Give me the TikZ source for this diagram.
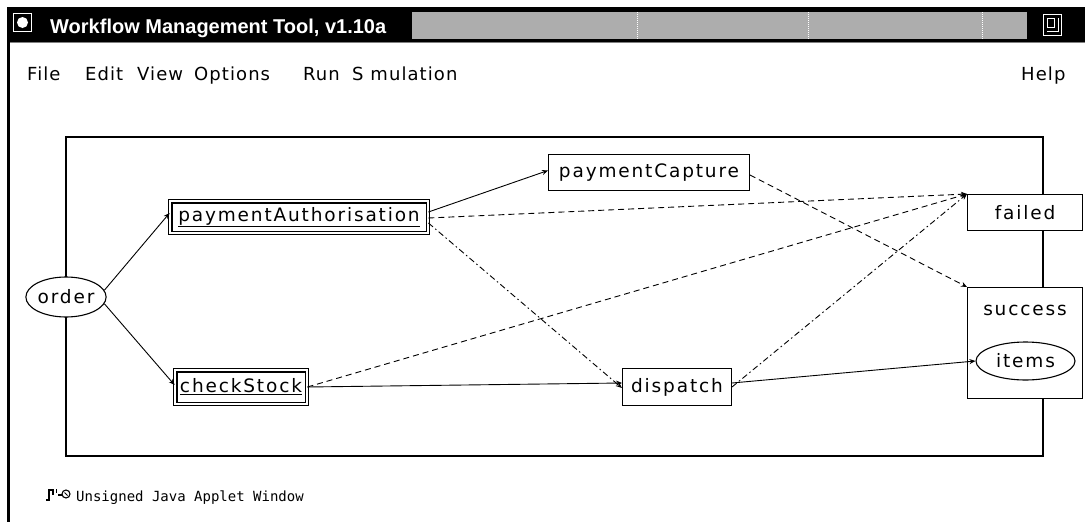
\documentclass[tikz,border=0pt]{standalone}
\usepackage{fontspec}
\setmainfont{DejaVu Sans}
\newfontfamily\nodefont{DejaVu Sans}[LetterSpace=10]
\newfontfamily\menufont{DejaVu Sans}[LetterSpace=6]
\newfontfamily\titlefont{Liberation Sans}
\newfontfamily\statusfont{DejaVu Sans Mono}
\usetikzlibrary{shapes.geometric,arrows.meta,calc}
\tikzset{
  box/.style={draw, fill=white, line width=1.3pt, inner sep=0pt, font=\nodefont\fontsize{18.5}{22}\selectfont},
  dbox/.style={draw, fill=white, line width=1.2pt, double=white, double distance=2.2pt, inner sep=0pt, font=\nodefont\fontsize{18.5}{22}\selectfont},
  oval/.style={ellipse, draw, fill=white, line width=1.1pt, inner sep=0pt, font=\nodefont\fontsize{18.5}{22}\selectfont},
  menu/.style={anchor=base west, inner sep=0pt, font=\menufont\fontsize{18}{22}\selectfont},
  edge/.style={line width=0.9pt, -{Stealth[length=6pt,width=5pt]}},
  dashedge/.style={edge, dash pattern=on 6pt off 4pt},
  dotedge/.style={edge, dash pattern=on 6pt off 3pt on 1.5pt off 3pt},
}
\begin{document}
\begin{tikzpicture}[x=1pt,y=-1pt]
\useasboundingbox (0,0) rectangle (1085,522);
\fill[white] (0,0) rectangle (1085,522);
% title bar
\fill[black] (7,7) rectangle (1085,42);
\draw[gray, line width=1pt] (7,42.5) -- (1085,42.5);
\fill[black] (7,7) rectangle (10,522);
\draw[white, line width=1pt] (13.5,13.5) rectangle (31.5,31.5);
\fill[white] (22.5,22.5) circle (5.5);
\node[anchor=base west, text=white, inner sep=0pt, font=\titlefont\bfseries\fontsize{20}{24}\selectfont] (title) at (50,33) {Workflow Management Tool, v1.10a};
\fill[black!32] (412,12) rectangle (1027,39);
\foreach \xx in {637,808,982} \draw[white, line width=1pt, dash pattern=on 1pt off 1pt] (\xx,12) -- (\xx,39);
\draw[white, line width=1pt] (1043.5,14.5) rectangle (1061.5,35.5);
\draw[white, line width=1pt] (1047,18) rectangle (1054,27);
\draw[white, line width=1pt] (1047,31) -- (1058,31) -- (1058,18);
% menu
\node[menu] (mfile) at (27,80) {File};
\node[menu] (medit) at (85,80) {Edit};
\node[menu] (mview) at (137,80) {View};
\node[menu] (mopt) at (194,80) {Options};
\node[menu] (mrun) at (303,80) {Run};
\node[menu] (msim) at (352,80) {S mulation};
\node[menu] (mhelp) at (1021,80) {Help};
% frame
\draw[line width=1.3pt] (66,137) rectangle (1043,456);
% nodes
\node[oval, minimum width=78pt, minimum height=40pt] (order) at (66,297) {order};
\node[dbox, minimum width=257.6pt, minimum height=31.6pt] (pa) at (299,217) {\underline{paymentAuthorisation}};
\node[dbox, minimum width=131.6pt, minimum height=33.6pt] (cs) at (241,387) {\underline{checkStock}};
\node[box, minimum width=200.7pt, minimum height=35.7pt] (pc) at (649,172.5) {paymentCapture};
\node[box, minimum width=108.7pt, minimum height=36.7pt] (dispatch) at (677,387) {dispatch};
\node[box, minimum width=114.7pt, minimum height=35.7pt] (failed) at (1025,212.5) {failed};
\node[box, minimum width=114.7pt, minimum height=110.7pt, label={[anchor=base, inner sep=0pt, font=\nodefont\fontsize{18.5}{22}\selectfont]north:{\raisebox{-28pt}{success}}}] (success) at (1025,343) {};
\node[oval, minimum width=99pt, minimum height=38pt] (items) at (1025.5,361) {items};
% edges
\draw[edge] (order.10) -- ([yshift=4pt]pa.west);
\draw[edge] (order.-10) -- ([yshift=2pt]cs.west);
\draw[edge] ([yshift=5pt]pa.east) -- ([yshift=2pt]pc.west);
\draw[dashedge] ([yshift=-1pt]pa.east) -- (failed.north west);
\draw[dotedge] ([yshift=-6pt]pa.east) -- ([yshift=-1pt]dispatch.west);
\draw[edge] (cs.east) -- ([yshift=4pt]dispatch.west);
\draw[dashedge] (cs.east) -- (failed.north west);
\draw[dotedge] (dispatch.east) -- (failed.north west);
\draw[edge] ([yshift=4pt]dispatch.east) -- (items.west);
\draw[dashedge] ([yshift=-2.5pt]pc.east) -- (success.north west);
% status bar
\draw[line width=1.4pt] (46,500) -- (49,500) -- (49,490) -- (53,490) -- (53,495);
\draw[line width=1pt] (56,489) -- (56,493);
\draw[line width=1.2pt] (58,495) -- (62,495);
\draw[line width=1.1pt] (66,494) circle (4);
\draw[line width=0.9pt] (64.5,492.5) -- (67.5,495.5);
\node[anchor=base west, inner sep=0pt, font=\statusfont\fontsize{14}{17}\selectfont] (status) at (76,501) {Unsigned Java Applet Window};
\end{tikzpicture}
\end{document}
